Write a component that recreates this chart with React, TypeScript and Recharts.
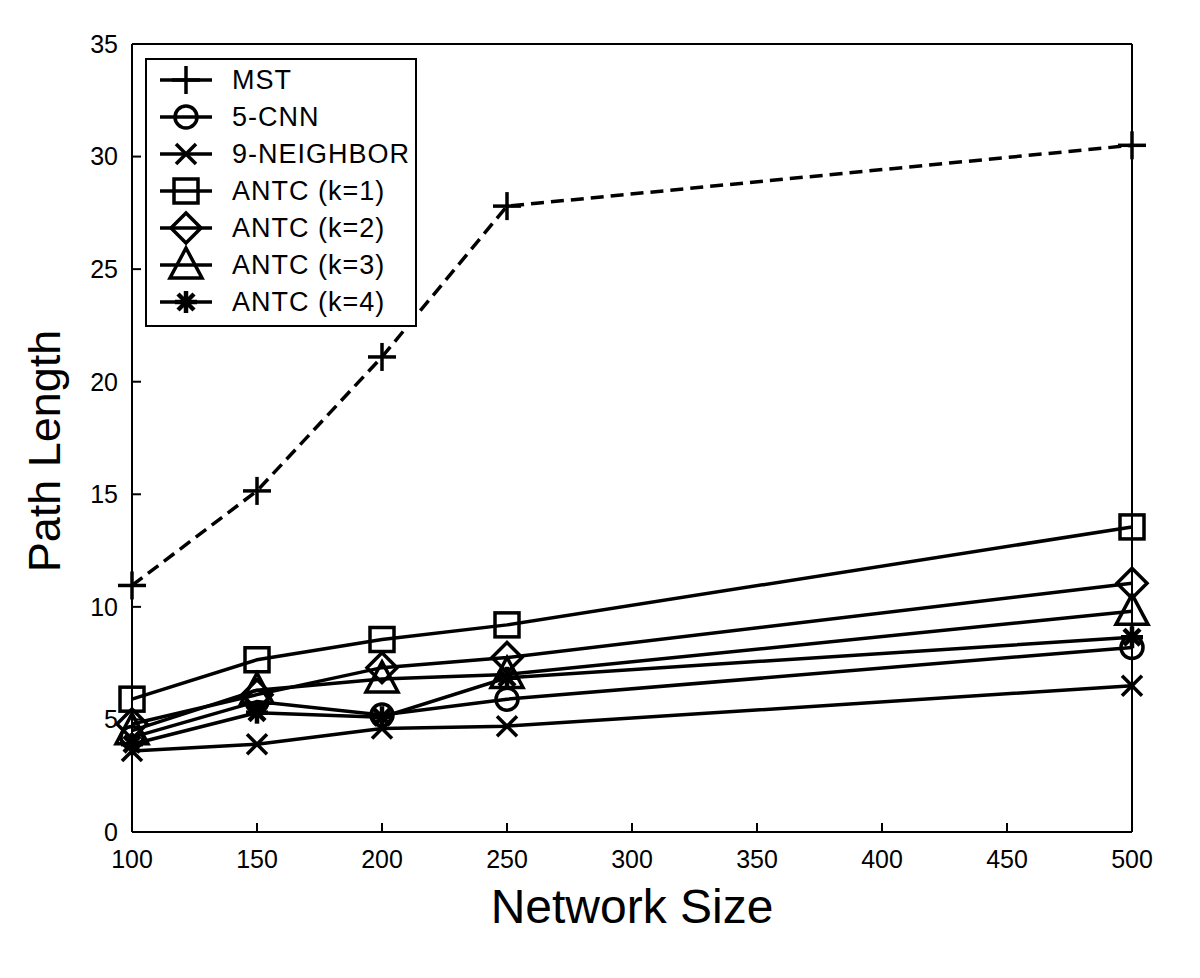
import { LineChart, Line, XAxis, YAxis, Legend } from "recharts";

// network sizes on the x axis
const sizes = [100, 150, 200, 250, 500];

// path length per method
const mst = [10.95, 15.15, 21.1, 27.8, 30.5];
const cnn5 = [4.2, 5.8, 5.2, 5.9, 8.2];
const neighbor9 = [3.6, 3.9, 4.6, 4.7, 6.5];
const antc1 = [5.9, 7.65, 8.55, 9.2, 13.55];
const antc2 = [4.8, 6.1, 7.3, 7.75, 11.05];
const antc3 = [4.5, 6.3, 6.8, 7.0, 9.8];
const antc4 = [3.9, 5.3, 5.1, 6.85, 8.65];

const xTicks = [100, 150, 200, 250, 300, 350, 400, 450, 500];
const yTicks = [0, 5, 10, 15, 20, 25, 30, 35];

type MarkerKind = "plus" | "circle" | "cross" | "square" | "diamond" | "triangle" | "star";

const series: { key: string; name: string; marker: MarkerKind; dashed?: boolean }[] = [
  { key: "mst", name: "MST", marker: "plus", dashed: true },
  { key: "cnn5", name: "5-CNN", marker: "circle" },
  { key: "neighbor9", name: "9-NEIGHBOR", marker: "cross" },
  { key: "antc1", name: "ANTC (k=1)", marker: "square" },
  { key: "antc2", name: "ANTC (k=2)", marker: "diamond" },
  { key: "antc3", name: "ANTC (k=3)", marker: "triangle" },
  { key: "antc4", name: "ANTC (k=4)", marker: "star" },
];

const chartData = sizes.map((size, i) => ({
  size,
  mst: mst[i],
  cnn5: cnn5[i],
  neighbor9: neighbor9[i],
  antc1: antc1[i],
  antc2: antc2[i],
  antc3: antc3[i],
  antc4: antc4[i],
}));

const FONT = '"Liberation Sans", Arial, sans-serif';
const SW = 3.5;

function Marker({ kind, cx, cy }: { kind: MarkerKind; cx: number; cy: number }) {
  const st = { fill: "none", stroke: "#000", strokeWidth: SW };
  switch (kind) {
    case "plus":
      return (
        <g {...st}>
          <line x1={cx - 14} y1={cy} x2={cx + 14} y2={cy} />
          <line x1={cx} y1={cy - 14} x2={cx} y2={cy + 14} />
        </g>
      );
    case "circle":
      return <circle cx={cx} cy={cy} r={11} {...st} />;
    case "cross":
      return (
        <g {...st}>
          <line x1={cx - 10} y1={cy - 10} x2={cx + 10} y2={cy + 10} />
          <line x1={cx - 10} y1={cy + 10} x2={cx + 10} y2={cy - 10} />
        </g>
      );
    case "square":
      return <rect x={cx - 12} y={cy - 12} width={24} height={24} {...st} />;
    case "diamond":
      return <polygon points={`${cx},${cy - 15} ${cx + 15},${cy} ${cx},${cy + 15} ${cx - 15},${cy}`} {...st} />;
    case "triangle":
      return <polygon points={`${cx},${cy - 17} ${cx + 16},${cy + 13} ${cx - 16},${cy + 13}`} {...st} />;
    case "star":
      return (
        <g {...st} strokeWidth={4.5}>
          <line x1={cx - 11} y1={cy} x2={cx + 11} y2={cy} />
          <line x1={cx} y1={cy - 11} x2={cx} y2={cy + 11} />
          <line x1={cx - 8} y1={cy - 8} x2={cx + 8} y2={cy + 8} />
          <line x1={cx - 8} y1={cy + 8} x2={cx + 8} y2={cy - 8} />
        </g>
      );
  }
  return null;
}

function LegendBox() {
  const rowH = 37;
  return (
    <svg width={272} height={269} style={{ display: "block" }}>
      <rect x={1} y={1} width={270} height={267} fill="#fff" stroke="#000" strokeWidth={2} />
      {series.map((s, i) => {
        const y = 22 + i * rowH;
        return (
          <g key={s.key}>
            <line x1={15} y1={y} x2={67} y2={y} stroke="#000" strokeWidth={SW} />
            <Marker kind={s.marker} cx={41} cy={y} />
            <text
              x={87}
              y={y}
              dominantBaseline="central"
              fontFamily={FONT}
              fontSize={27}
              letterSpacing={1}
              fill="#000"
            >
              {s.name}
            </text>
          </g>
        );
      })}
    </svg>
  );
}

export default function App() {
  const tickStyle = { fontSize: 25, fill: "#000", fontFamily: FONT };
  return (
    <div style={{ position: "absolute", left: 0, top: 0, background: "#fff" }}>
      <LineChart
        width={1200}
        height={978}
        data={chartData}
        margin={{ top: 40, right: 64, bottom: 46, left: 62 }}
      >
        <XAxis
          xAxisId="b"
          dataKey="size"
          type="number"
          domain={[100, 500]}
          ticks={xTicks}
          height={100}
          tickSize={-9}
          tickMargin={27}
          tick={tickStyle}
          axisLine={{ stroke: "#000", strokeWidth: 2 }}
          tickLine={{ stroke: "#000", strokeWidth: 2 }}
          label={{
            value: "Network Size",
            position: "insideBottom",
            offset: 9,
            fontSize: 48,
            fill: "#000",
            fontFamily: FONT,
          }}
        />
        <XAxis
          xAxisId="t"
          dataKey="size"
          type="number"
          orientation="top"
          domain={[100, 500]}
          ticks={xTicks}
          height={4}
          tickSize={-9}
          tick={false}
          axisLine={{ stroke: "#000", strokeWidth: 2 }}
          tickLine={{ stroke: "#000", strokeWidth: 2 }}
        />
        <YAxis
          yAxisId="l"
          type="number"
          domain={[0, 35]}
          ticks={yTicks}
          width={70}
          tickSize={-9}
          tickMargin={23}
          tick={tickStyle}
          axisLine={{ stroke: "#000", strokeWidth: 2 }}
          tickLine={{ stroke: "#000", strokeWidth: 2 }}
          label={{
            content: (props: any) => {
              const vb = props.viewBox || { x: 62, y: 44, width: 70, height: 788 };
              const cx = vb.x - 18;
              const cy = vb.y + vb.height / 2 + 13;
              return (
                <text
                  x={cx}
                  y={cy}
                  transform={`rotate(-90 ${cx} ${cy})`}
                  textAnchor="middle"
                  dominantBaseline="central"
                  fontSize={45}
                  fontFamily={FONT}
                  fill="#000"
                >
                  Path Length
                </text>
              );
            },
          }}
        />
        <YAxis
          yAxisId="r"
          type="number"
          orientation="right"
          domain={[0, 35]}
          ticks={yTicks}
          width={4}
          tickSize={-9}
          tick={false}
          axisLine={{ stroke: "#000", strokeWidth: 2 }}
          tickLine={{ stroke: "#000", strokeWidth: 2 }}
        />
        {series.map((s) => (
          <Line
            key={s.key}
            xAxisId="b"
            yAxisId="l"
            dataKey={s.key}
            name={s.name}
            type="linear"
            stroke="#000"
            strokeWidth={SW}
            strokeDasharray={s.dashed ? "13 7" : undefined}
            isAnimationActive={false}
            dot={(p: any) => (
              <Marker key={`${s.key}-${p.index}`} kind={s.marker} cx={p.cx} cy={p.cy} />
            )}
            activeDot={false}
          />
        ))}
        <Legend
          layout="vertical"
          align="center"
          verticalAlign="middle"
          content={<LegendBox />}
          wrapperStyle={{ position: "absolute", left: 145, top: 58, width: 272, height: 269 }}
        />
      </LineChart>
    </div>
  );
}
